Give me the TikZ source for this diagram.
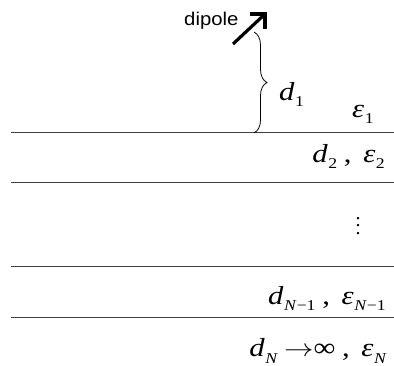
\documentclass[tikz,border=0pt]{standalone}
\usepackage{fontspec}
\usepackage{graphicx}
\setmainfont{Liberation Serif}
\newfontfamily\arialf{Liberation Sans}
\usetikzlibrary{decorations.pathreplacing,arrows.meta}
\newcommand\mysub[1]{\raisebox{-6pt}{\fontsize{15}{15}\selectfont #1}}
\newcommand\myvar[2]{\textit{#1}\hspace{0.5pt}\mysub{#2}}
\newcommand\wide[1]{\scalebox{1.18}[1]{#1}}
\newcommand\mycomma{\hspace{0.22em},\hspace{0.38em}}
\newcommand\myvdots{\vbox{\baselineskip=7.5pt\lineskiplimit=0pt\lineskip=0pt\hbox{.}\hbox{.}\hbox{.}}}
\begin{document}
\begin{tikzpicture}[x=1pt,y=-1pt,
  layer/.style={draw=black!75, line width=1pt},
  lab/.style={font=\fontsize{26}{26}\selectfont, anchor=base east, inner sep=0pt},
  labw/.style={font=\fontsize{26}{26}\selectfont, anchor=base west, inner sep=0pt},
  dip/.style={line width=3.2pt, line cap=butt, line join=miter}]
\useasboundingbox (0,0) rectangle (394,366);
% layer lines
\coordinate (a1) at (11,133); \coordinate (b1) at (394,133);
\coordinate (a2) at (11,183); \coordinate (b2) at (394,183);
\coordinate (a3) at (11,267); \coordinate (b3) at (394,267);
\coordinate (a4) at (11,318); \coordinate (b4) at (394,318);
\draw[layer] (a1) -- (b1);
\draw[layer] (a2) -- (b2);
\draw[layer] (a3) -- (b3);
\draw[layer] (a4) -- (b4);
% dipole
\coordinate (tail) at (233,44);
\coordinate (tip) at (265,14);
\coordinate (h1) at (250,14);
\coordinate (h2) at (265,29);
\draw[dip] (tail) -- (tip);
\draw[dip] (h1) -- (tip) -- (h2);
\node[font=\arialf\fontsize{18.5}{18.5}\selectfont, anchor=base west, inner sep=0pt] (dl) at (184,26) {\scalebox{1.1}[1]{dipole}};
% brace
\coordinate (bt) at (254,32);
\coordinate (bb) at (254,133);
\draw[line width=0.8pt, decorate, decoration={brace, amplitude=13pt}] (bt) -- (bb);
% labels
\node[labw] (d1) at (279,101) {\wide{\myvar{d}{1}}};
\node[labw] (e1) at (352,118) {\wide{\myvar{ε}{1}}};
\node[lab] (t2) at (385,163) {\wide{\myvar{d}{2}\mycomma\myvar{ε}{2}}};
\node[font=\fontsize{20}{20}\selectfont, anchor=base, inner sep=0pt] (vd) at (358,234.5) {\myvdots};
\node[lab] (t3) at (386,305) {\wide{\myvar{d}{\textit{N}−1}\mycomma\myvar{ε}{\textit{N}−1}}};
\node[lab] (t4) at (387,357) {\wide{\myvar{d}{\textit{N}}\hspace{0.2em}$\rightarrow$∞\mycomma\myvar{ε}{\textit{N}}}};
\end{tikzpicture}
\end{document}
